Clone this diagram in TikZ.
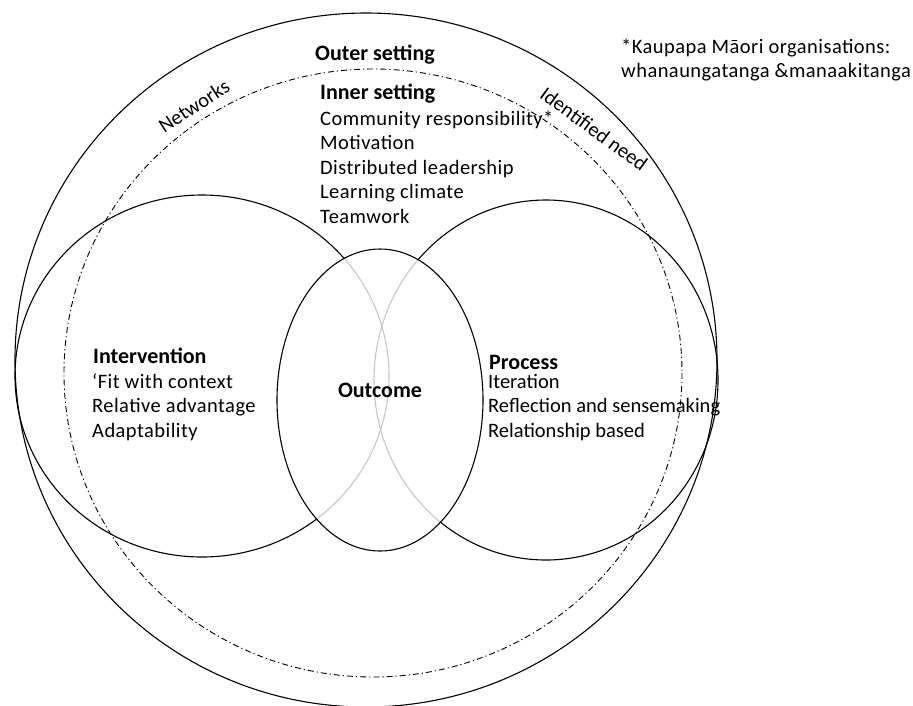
\documentclass[tikz,border=0pt]{standalone}
\usepackage{fontspec}
\setmainfont{Carlito}
\newfontfamily\airyfont[LetterSpace=2.2]{Carlito}
\begin{document}
\begin{tikzpicture}[x=1pt,y=-1pt,
  ring/.style={draw=black,line width=1.1pt},
  dashring/.style={draw=black,line width=0.9pt,dash pattern=on 6pt off 3pt on 1.2pt off 3pt},
  faint/.style={draw=black!22,line width=1.1pt},
  heading/.style={font=\fontsize{22}{26}\selectfont\bfseries,inner sep=0pt,anchor=base west},
  item/.style={font=\fontsize{20.5}{25}\selectfont,inner sep=0pt,anchor=base west},
  airyitem/.style={font=\fontsize{20.5}{25}\selectfont\airyfont,inner sep=0pt,anchor=base west},
  arclabel/.style={font=\fontsize{20.5}{25}\selectfont,inner sep=0pt}]
\useasboundingbox (0,0) rectangle (913,705);

% outer and inner setting rings
\draw[ring] (366,360) ellipse [x radius=351,y radius=347];
\draw[dashring] (373,373) ellipse [x radius=309,y radius=304];

% intervention and process domains
\draw[ring] (202,376) ellipse [x radius=187,y radius=181];
\draw[ring] (546,380) ellipse [x radius=172,y radius=180];

% where the two domains pass through the outcome, they fade to grey
\fill[white] (380,400) ellipse [x radius=103,y radius=151];
\begin{scope}
  \clip (380,400) ellipse [x radius=103,y radius=151];
  \draw[faint] (202,376) ellipse [x radius=187,y radius=181];
  \draw[faint] (546,380) ellipse [x radius=172,y radius=180];
\end{scope}
\draw[ring] (380,400) ellipse [x radius=103,y radius=151];

% outer setting
\node[heading] (outer) at (315,60) {Outer setting};
\node[arclabel,rotate=33] (networks) at (194,106) {Networks};
\node[arclabel,rotate=-36] (need) at (594,129) {Identified need};
\node[airyitem] (note1) at (621,53) {*Kaupapa Māori organisations:};
\node[airyitem] (note2) at (621,77) {whanaungatanga \&manaakitanga};

% inner setting
\node[heading] (inner) at (320,99) {Inner setting};
\node[airyitem] (in1) at (320,125) {Community responsibility*};
\node[airyitem] (in2) at (320,149.5) {Motivation};
\node[airyitem] (in3) at (320,174) {Distributed leadership};
\node[airyitem] (in4) at (320,198.5) {Learning climate};
\node[airyitem] (in5) at (320,223) {Teamwork};

% intervention
\node[heading] (interv) at (93,363) {Intervention};
\node[airyitem] (iv1) at (92,388) {‘Fit with context};
\node[airyitem] (iv2) at (92,412.5) {Relative advantage};
\node[airyitem] (iv3) at (92,437) {Adaptability};

% outcome
\node[heading,anchor=base] (outcome) at (380,397) {Outcome};

% process
\node[heading] (process) at (489,369) {Process};
\node[item] (pr1) at (488,388) {Iteration};
\node[item] (pr2) at (488,412.5) {Reflection and sensemaking};
\node[item] (pr3) at (488,437) {Relationship based};
\end{tikzpicture}
\end{document}
